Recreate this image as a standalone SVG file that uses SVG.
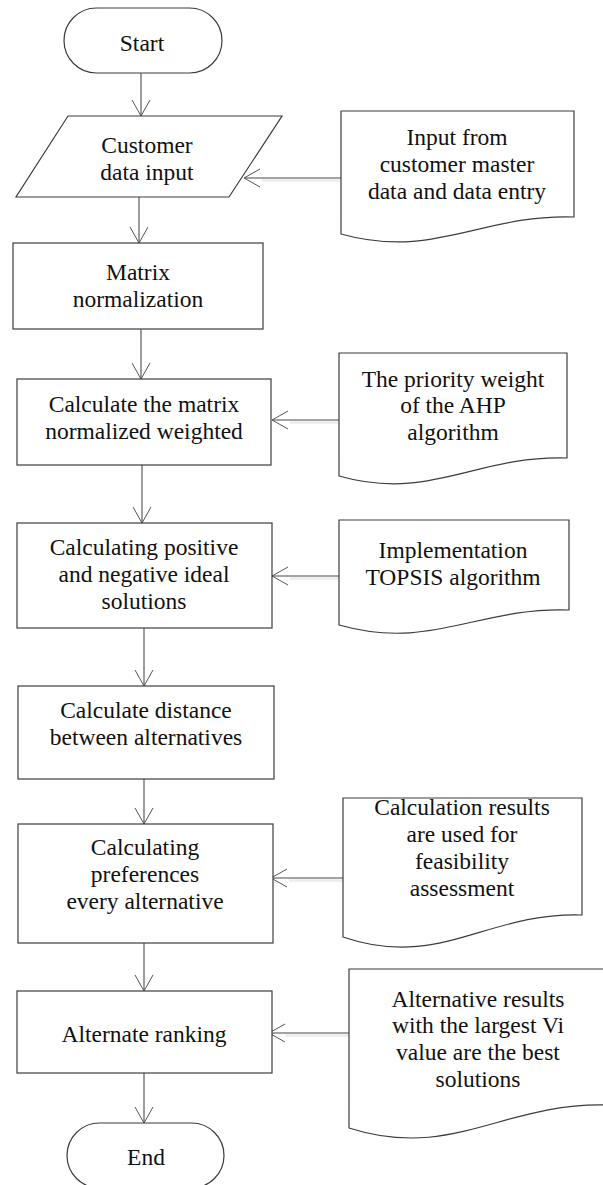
<svg xmlns="http://www.w3.org/2000/svg" width="603" height="1185" viewBox="0 0 603 1185">
<style>
.sh{fill:#fff;stroke:#3c3c3c;stroke-width:1.2}
.t{font-family:"Liberation Serif","Times New Roman",serif;font-size:23.5px;fill:#111;text-anchor:middle}
.c{stroke:#858585;stroke-width:1.6;fill:none}
.cs{stroke:#ececec;stroke-width:2.5;fill:none}
</style>
<defs>
<marker id="arr" markerUnits="userSpaceOnUse" markerWidth="20" markerHeight="20" viewBox="0 0 20 20" refX="18" refY="10" orient="auto">
<path d="M2,1 L18,10 L2,19" fill="none" stroke="#555" stroke-width="1"/>
</marker>
</defs>
<rect width="603" height="1185" fill="#fff"/>
<g id="connectors">
<g id="shadows">
<line class="cs" x1="343" y1="180.5" x2="262" y2="180.5"/>
<line class="cs" x1="341" y1="422.5" x2="290" y2="422.5"/>
<line class="cs" x1="341" y1="578.5" x2="290" y2="578.5"/>
<line class="cs" x1="345" y1="880.5" x2="289" y2="880.5"/>
<line class="cs" x1="351" y1="1035.5" x2="286" y2="1035.5"/>
</g>
<line class="c" x1="141" y1="73" x2="141" y2="116" marker-end="url(#arr)"/>
<line class="c" x1="139" y1="197" x2="139" y2="243" marker-end="url(#arr)"/>
<line class="c" x1="141" y1="329" x2="141" y2="379" marker-end="url(#arr)"/>
<line class="c" x1="142" y1="465" x2="142" y2="523" marker-end="url(#arr)"/>
<line class="c" x1="144" y1="628" x2="144" y2="686" marker-end="url(#arr)"/>
<line class="c" x1="144" y1="779" x2="144" y2="824" marker-end="url(#arr)"/>
<line class="c" x1="144" y1="943" x2="144" y2="991" marker-end="url(#arr)"/>
<line class="c" x1="144" y1="1073" x2="144" y2="1123" marker-end="url(#arr)"/>
<line class="c" x1="341" y1="178" x2="244" y2="178" marker-end="url(#arr)"/>
<line class="c" x1="339" y1="420" x2="272" y2="420" marker-end="url(#arr)"/>
<line class="c" x1="339" y1="576" x2="272" y2="576" marker-end="url(#arr)"/>
<line class="c" x1="343" y1="878" x2="271" y2="878" marker-end="url(#arr)"/>
<line class="c" x1="349" y1="1033" x2="269" y2="1033" marker-end="url(#arr)"/>
</g>
<g id="start">
<rect class="sh" x="64" y="8" width="158" height="65" rx="32.5"/>
<text class="t" x="142" y="51">Start</text>
</g>
<g id="input">
<polygon class="sh" points="68,116 282,116 229,197 16,197"/>
<text class="t" x="147" y="153">Customer</text>
<text class="t" x="147" y="180">data input</text>
</g>
<g id="doc1">
<path class="sh" d="M341,111 H574 V217 C481,214 434,260 341,234 Z"/>
<text class="t" x="457" y="145">Input from</text>
<text class="t" x="457" y="172">customer master</text>
<text class="t" x="457" y="199">data and data entry</text>
</g>
<g id="matrix">
<rect class="sh" x="13" y="243" width="250" height="86"/>
<text class="t" x="138" y="280">Matrix</text>
<text class="t" x="138" y="307">normalization</text>
</g>
<g id="weighted">
<rect class="sh" x="17" y="379" width="254" height="86"/>
<text class="t" x="144" y="412">Calculate the matrix</text>
<text class="t" x="144" y="439">normalized weighted</text>
</g>
<g id="doc2">
<path class="sh" d="M339,353 H567 V458 C476,455 430,502 339,476 Z"/>
<text class="t" x="453" y="387">The priority weight</text>
<text class="t" x="453" y="413">of the AHP</text>
<text class="t" x="453" y="440">algorithm</text>
</g>
<g id="ideal">
<rect class="sh" x="17" y="523" width="255" height="105"/>
<text class="t" x="144" y="555">Calculating positive</text>
<text class="t" x="144" y="582">and negative ideal</text>
<text class="t" x="144" y="609">solutions</text>
</g>
<g id="doc3">
<path class="sh" d="M339,520 H569 V610 C477,607 431,651 339,625 Z"/>
<text class="t" x="453" y="558">Implementation</text>
<text class="t" x="453" y="585">TOPSIS algorithm</text>
</g>
<g id="distance">
<rect class="sh" x="18" y="686" width="256" height="93"/>
<text class="t" x="146" y="718">Calculate distance</text>
<text class="t" x="146" y="745">between alternatives</text>
</g>
<g id="preferences">
<rect class="sh" x="18" y="824" width="255" height="119"/>
<text class="t" x="145" y="855">Calculating</text>
<text class="t" x="145" y="882">preferences</text>
<text class="t" x="145" y="909">every alternative</text>
</g>
<g id="doc4">
<path class="sh" d="M343,798 H582 V915 C486,912 439,970 343,937 Z"/>
<text class="t" x="462" y="815">Calculation results</text>
<text class="t" x="462" y="842">are used for</text>
<text class="t" x="462" y="869">feasibility</text>
<text class="t" x="462" y="896">assessment</text>
</g>
<g id="ranking">
<rect class="sh" x="17" y="991" width="255" height="82"/>
<text class="t" x="144" y="1042">Alternate ranking</text>
</g>
<g id="doc5">
<path class="sh" d="M349,969 H607 V1105 C504,1102 452,1161 349,1128 Z"/>
<text class="t" x="478" y="1007">Alternative results</text>
<text class="t" x="478" y="1033">with the largest Vi</text>
<text class="t" x="478" y="1060">value are the best</text>
<text class="t" x="478" y="1087">solutions</text>
</g>
<g id="end">
<rect class="sh" x="67" y="1123" width="157" height="65" rx="32.5"/>
<text class="t" x="146" y="1165">End</text>
</g>
</svg>
